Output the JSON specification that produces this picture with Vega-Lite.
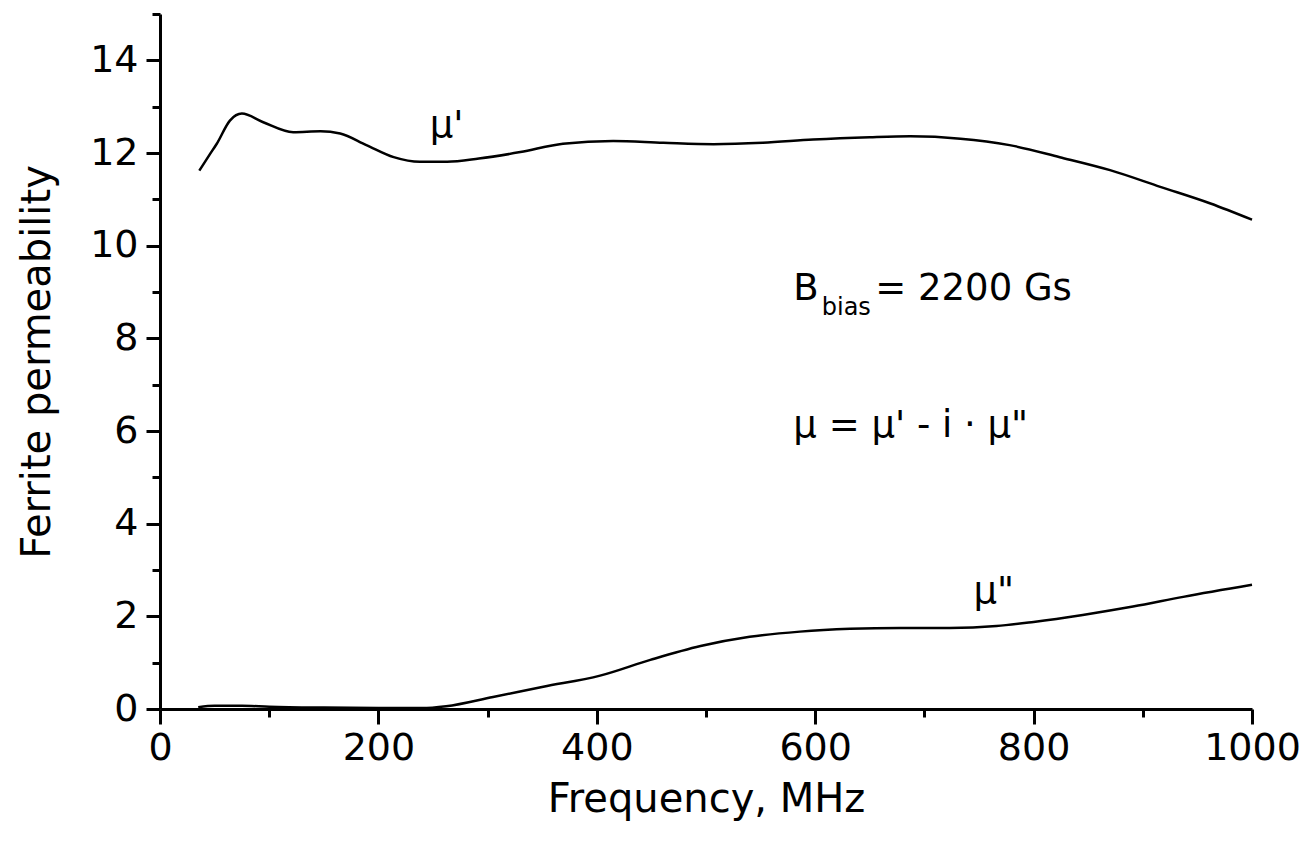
{
  "$schema": "https://vega.github.io/schema/vega-lite/v6.json",
  "width": 1092,
  "height": 695,
  "autosize": {"type": "none"},
  "padding": {"left": 160, "top": 14, "right": 53, "bottom": 146},
  "background": "white",
  "config": {
    "view": {"stroke": null},
    "font": "DejaVu Sans",
    "axis": {
      "grid": false,
      "domainColor": "black",
      "domainWidth": 3,
      "tickColor": "black",
      "tickWidth": 3,
      "labelColor": "black",
      "titleColor": "black",
      "labelFont": "DejaVu Sans",
      "titleFont": "DejaVu Sans",
      "labelFontSize": 38,
      "titleFontSize": 40,
      "titleFontWeight": "normal"
    }
  },
  "datasets": {
    "curves": [
      {"f": 36, "mu": 11.62, "s": "mu1"},
      {"f": 45, "mu": 11.95, "s": "mu1"},
      {"f": 52, "mu": 12.2, "s": "mu1"},
      {"f": 64, "mu": 12.7, "s": "mu1"},
      {"f": 75, "mu": 12.85, "s": "mu1"},
      {"f": 94, "mu": 12.67, "s": "mu1"},
      {"f": 122, "mu": 12.45, "s": "mu1"},
      {"f": 147, "mu": 12.47, "s": "mu1"},
      {"f": 165, "mu": 12.42, "s": "mu1"},
      {"f": 189, "mu": 12.17, "s": "mu1"},
      {"f": 214, "mu": 11.91, "s": "mu1"},
      {"f": 238, "mu": 11.81, "s": "mu1"},
      {"f": 263, "mu": 11.81, "s": "mu1"},
      {"f": 292, "mu": 11.88, "s": "mu1"},
      {"f": 330, "mu": 12.02, "s": "mu1"},
      {"f": 369, "mu": 12.2, "s": "mu1"},
      {"f": 415, "mu": 12.26, "s": "mu1"},
      {"f": 461, "mu": 12.22, "s": "mu1"},
      {"f": 507, "mu": 12.19, "s": "mu1"},
      {"f": 552, "mu": 12.22, "s": "mu1"},
      {"f": 598, "mu": 12.29, "s": "mu1"},
      {"f": 650, "mu": 12.34, "s": "mu1"},
      {"f": 687, "mu": 12.36, "s": "mu1"},
      {"f": 733, "mu": 12.31, "s": "mu1"},
      {"f": 778, "mu": 12.17, "s": "mu1"},
      {"f": 824, "mu": 11.91, "s": "mu1"},
      {"f": 870, "mu": 11.63, "s": "mu1"},
      {"f": 916, "mu": 11.27, "s": "mu1"},
      {"f": 962, "mu": 10.91, "s": "mu1"},
      {"f": 1000, "mu": 10.56, "s": "mu1"},
      {"f": 35, "mu": 0.04, "s": "mu2"},
      {"f": 50, "mu": 0.07, "s": "mu2"},
      {"f": 75, "mu": 0.07, "s": "mu2"},
      {"f": 100, "mu": 0.05, "s": "mu2"},
      {"f": 150, "mu": 0.03, "s": "mu2"},
      {"f": 200, "mu": 0.02, "s": "mu2"},
      {"f": 240, "mu": 0.02, "s": "mu2"},
      {"f": 262, "mu": 0.06, "s": "mu2"},
      {"f": 305, "mu": 0.26, "s": "mu2"},
      {"f": 351, "mu": 0.48, "s": "mu2"},
      {"f": 403, "mu": 0.72, "s": "mu2"},
      {"f": 449, "mu": 1.06, "s": "mu2"},
      {"f": 495, "mu": 1.36, "s": "mu2"},
      {"f": 540, "mu": 1.56, "s": "mu2"},
      {"f": 586, "mu": 1.67, "s": "mu2"},
      {"f": 632, "mu": 1.73, "s": "mu2"},
      {"f": 678, "mu": 1.75, "s": "mu2"},
      {"f": 723, "mu": 1.75, "s": "mu2"},
      {"f": 766, "mu": 1.79, "s": "mu2"},
      {"f": 800, "mu": 1.88, "s": "mu2"},
      {"f": 845, "mu": 2.03, "s": "mu2"},
      {"f": 891, "mu": 2.21, "s": "mu2"},
      {"f": 937, "mu": 2.42, "s": "mu2"},
      {"f": 1000, "mu": 2.68, "s": "mu2"}
    ],
    "notes": [
      {"f": 247, "v": 12.34, "t": "μ'"},
      {"f": 745, "v": 2.29, "t": "μ\""},
      {"f": 580, "v": 8.82, "t": "B"},
      {"f": 655, "v": 8.82, "t": "= 2200 Gs"},
      {"f": 580, "v": 5.87, "t": "μ = μ' - i · μ\""}
    ],
    "subs": [
      {"f": 606, "v": 8.5, "t": "bias"}
    ]
  },
  "layer": [
    {
      "data": {"name": "curves"},
      "mark": {"type": "line", "color": "black", "strokeWidth": 2.5, "interpolate": "monotone"},
      "encoding": {
        "x": {
          "field": "f", "type": "quantitative",
          "scale": {"domain": [0, 1000], "nice": false, "zero": false},
          "axis": {
            "title": "Frequency, MHz",
            "values": [0, 100, 200, 300, 400, 500, 600, 700, 800, 900, 1000],
            "format": "d",
            "labelExpr": "datum.value % 200 === 0 ? datum.label : ''",
            "tickSize": {"condition": {"test": "datum.value % 200 === 0", "value": 15}, "value": 8},
            "labelPadding": 5,
            "titlePadding": 12,
            "labelFlush": false,
            "labelOverlap": false
          }
        },
        "y": {
          "field": "mu", "type": "quantitative",
          "scale": {"domain": [0, 15], "nice": false},
          "axis": {
            "title": "Ferrite permeability",
            "values": [0, 1, 2, 3, 4, 5, 6, 7, 8, 9, 10, 11, 12, 13, 14, 15],
            "format": "d",
            "labelExpr": "datum.value % 2 === 0 && datum.value < 15 ? datum.label : ''",
            "tickSize": {"condition": {"test": "datum.value % 2 === 0", "value": 14}, "value": 8},
            "labelPadding": 8,
            "titlePadding": 32,
            "labelFlush": false,
            "labelOverlap": false
          }
        },
        "detail": {"field": "s"}
      }
    },
    {
      "data": {"name": "notes"},
      "mark": {"type": "text", "align": "left", "baseline": "alphabetic", "fontSize": 37, "font": "DejaVu Sans", "color": "black"},
      "encoding": {
        "x": {"field": "f", "type": "quantitative"},
        "y": {"field": "v", "type": "quantitative"},
        "text": {"field": "t"}
      }
    },
    {
      "data": {"name": "subs"},
      "mark": {"type": "text", "align": "left", "baseline": "alphabetic", "fontSize": 24, "font": "DejaVu Sans", "color": "black"},
      "encoding": {
        "x": {"field": "f", "type": "quantitative"},
        "y": {"field": "v", "type": "quantitative"},
        "text": {"field": "t"}
      }
    }
  ]
}
